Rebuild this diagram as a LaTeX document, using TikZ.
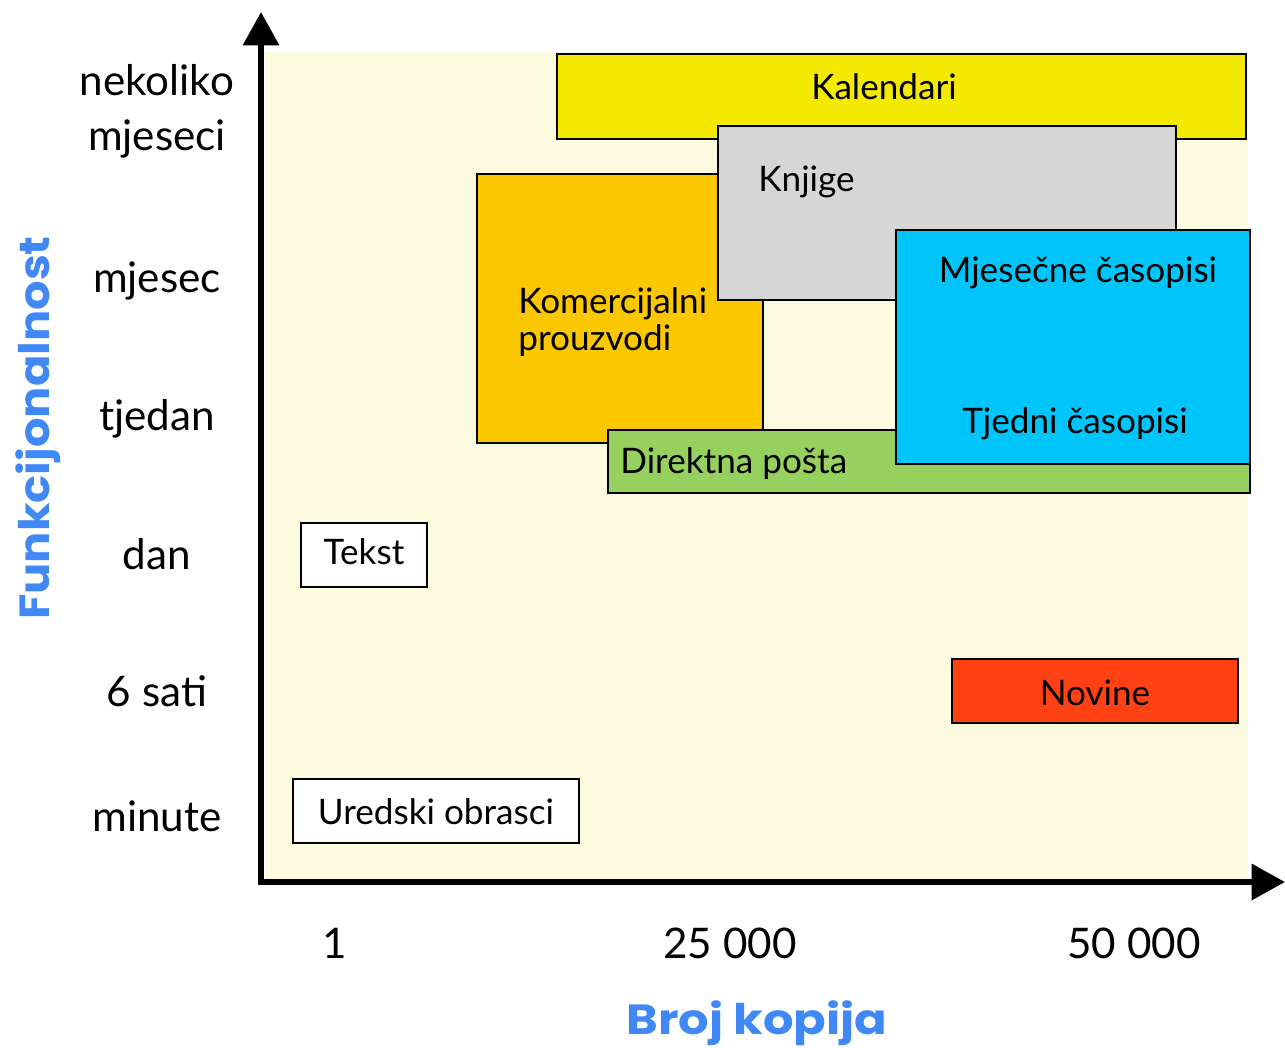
\documentclass[tikz,border=0pt]{standalone}
\usepackage{fontspec}
\setmainfont{Lato}
\newfontfamily\titlefont{Poppins}
\usepackage{tikz}
\usetikzlibrary{arrows.meta}
\definecolor{cream}{HTML}{FDFBDF}
\definecolor{kalyellow}{HTML}{F4EA00}
\definecolor{knjgray}{HTML}{D6D6D6}
\definecolor{komorange}{HTML}{FBC800}
\definecolor{dirgreen}{HTML}{96D160}
\definecolor{casblue}{HTML}{00C5FA}
\definecolor{novred}{HTML}{FF4114}
\definecolor{titleblue}{HTML}{3F88F6}

\begin{document}
\begin{tikzpicture}[x=0.02cm, y=-0.02cm,
				box/.style={draw=black, line width=1.4pt},
				boxtext/.style={font=\fontsize{20}{21}\selectfont, inner sep=0pt},
				ticktext/.style={font=\fontsize{24}{26}\selectfont, inner sep=0pt, anchor=base},
				axistitle/.style={font=\titlefont\fontsize{24}{26}\selectfont\bfseries, text=titleblue, inner sep=0pt, anchor=base},
				axis/.style={line width=3.4pt, -{Triangle[length=19pt, width=20pt]}}]
	\useasboundingbox (0,0) rectangle (1285,1048);
	\fill[cream] (265,52) rectangle (1248,880);
	\filldraw[box, fill=kalyellow] (557,54) rectangle (1246,139);
	\filldraw[box, fill=komorange] (477,174) rectangle (763,443);
	\filldraw[box, fill=knjgray] (718,126) rectangle (1176,300);
	\filldraw[box, fill=dirgreen] (608,430) rectangle (1250,493);
	\filldraw[box, fill=casblue] (896,230) rectangle (1250,464);
	\filldraw[box, fill=white] (301,523) rectangle (427,587);
	\filldraw[box, fill=novred] (952,659) rectangle (1238,723);
	\filldraw[box, fill=white] (293,779) rectangle (579,843);
	\node[boxtext] (kal) at (884,87) {Kalendari};
	\node[boxtext, anchor=base west] (knj) at (758,191) {Knjige};
	\node[boxtext, anchor=base west, align=left] (kom) at (518,350) {Komercijalni\\prouzvodi};
	\node[boxtext, anchor=base west] (dir) at (620,473) {Direktna pošta};
	\node[boxtext, anchor=base] (mjc) at (1078,282) {Mjesečne časopisi};
	\node[boxtext, anchor=base] (tjc) at (1075,433) {Tjedni časopisi};
	\node[boxtext] (tek) at (364,552) {Tekst};
	\node[boxtext] (nov) at (1095,693) {Novine};
	\node[boxtext] (ure) at (436,812) {Uredski obrasci};
	\coordinate (O) at (261,882);
	\coordinate (ytip) at (261,12);
	\coordinate (xtip) at (1285,882);
	\draw[axis] (261,885) -- (ytip);
	\draw[axis] (258,882) -- (xtip);
	\node[ticktext] (nek) at (157,95) {nekoliko};
	\node[ticktext] (mjs) at (157,150) {mjeseci};
	\node[ticktext] (mje) at (157,292) {mjesec};
	\node[ticktext] (tje) at (157,430) {tjedan};
	\node[ticktext] (dan) at (157,569) {dan};
	\node[ticktext] (sat) at (157,706) {6 sati};
	\node[ticktext] (min) at (157,831) {minute};
	\node[ticktext] (x1) at (335,958) {1};
	\node[ticktext] (x25) at (730,958) {25 000};
	\node[ticktext] (x50) at (1134,958) {50 000};
	\node[axistitle] (brk) at (757,1034) {\scalebox{1.14}[1]{Broj kopija}};
	\node[axistitle, rotate=90] (fun) at (50,428) {\scalebox{1.1}[1]{Funkcijonalnost}};
\end{tikzpicture}
\end{document}
